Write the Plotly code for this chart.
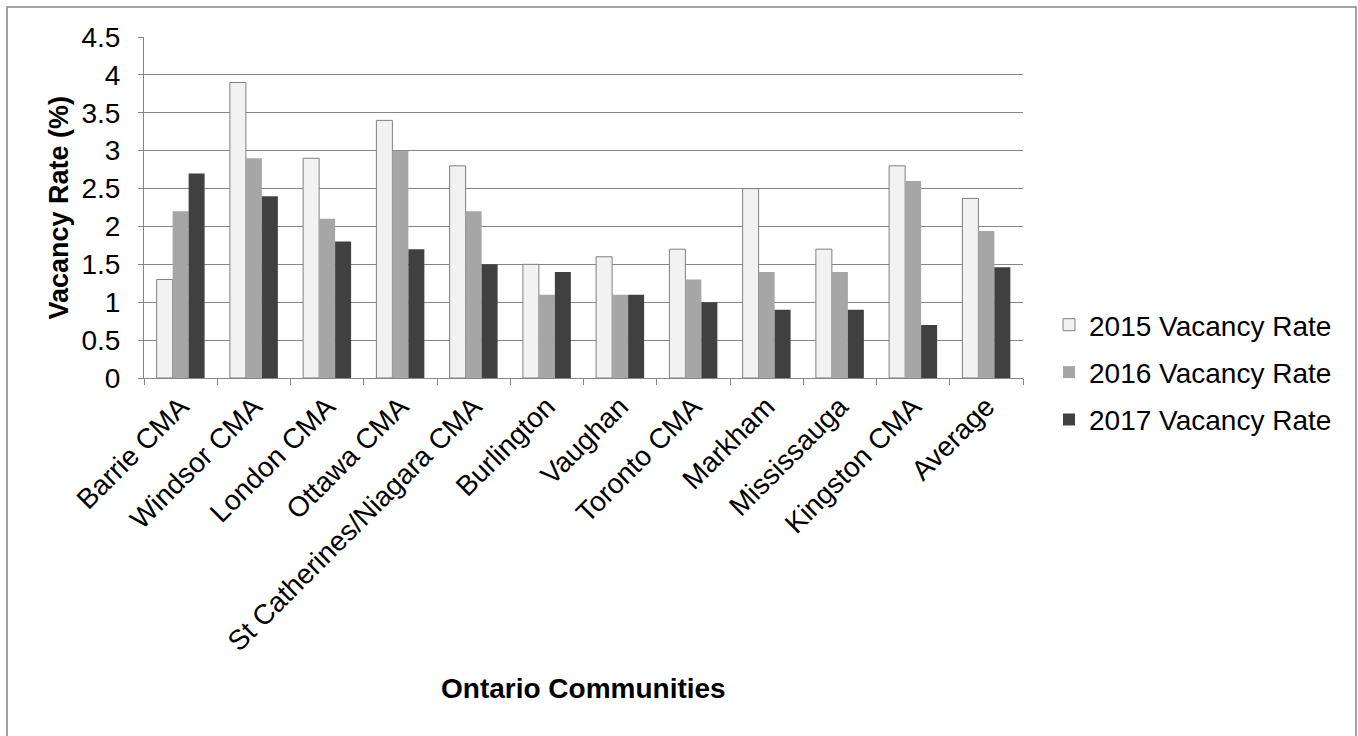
import plotly.graph_objects as go

categories = ["Barrie CMA", "Windsor CMA", "London CMA", "Ottawa CMA",
              "St Catherines/Niagara CMA", "Burlington", "Vaughan", "Toronto CMA",
              "Markham", "Mississauga", "Kingston CMA", "Average"]
rate_2015 = [1.3, 3.9, 2.9, 3.4, 2.8, 1.5, 1.6, 1.7, 2.5, 1.7, 2.8, 2.37]
rate_2016 = [2.2, 2.9, 2.1, 3.0, 2.2, 1.1, 1.1, 1.3, 1.4, 1.4, 2.6, 1.94]
rate_2017 = [2.7, 2.4, 1.8, 1.7, 1.5, 1.4, 1.1, 1.0, 0.9, 0.9, 0.7, 1.46]
series_names = ["2015 Vacancy Rate", "2016 Vacancy Rate", "2017 Vacancy Rate"]
y_ticks = [0, 0.5, 1, 1.5, 2, 2.5, 3, 3.5, 4, 4.5]
y_ticklabels = ["0", "0.5", "1", "1.5", "2", "2.5", "3", "3.5", "4", "4.5"]

FONT = "Liberation Sans, Arial, sans-serif"
GRID = "#868686"
FS = 28

fig = go.Figure()
fig.add_trace(go.Bar(x=categories, y=rate_2015, name=series_names[0],
                     marker=dict(color="#f2f2f2", line=dict(color="#7f7f7f", width=1)),
                     legendgroup="a"))
fig.add_trace(go.Bar(x=categories, y=rate_2016, name=series_names[1],
                     marker=dict(color="#a6a6a6", line=dict(width=0)),
                     legendgroup="b"))
fig.add_trace(go.Bar(x=categories, y=rate_2017, name=series_names[2],
                     marker=dict(color="#404040", line=dict(width=0)),
                     legendgroup="c"))

W, H = 1358, 736
L, R, T, B = 144, 335, 37, 358
pw = W - L - R
ph = H - T - B

def px_x(p):
    return (p - L) / pw

def px_y(p):
    return (H - B - p) / ph

fig.update_layout(
    width=W, height=H,
    margin=dict(l=L, r=R, t=T, b=B, autoexpand=False),
    paper_bgcolor="white", plot_bgcolor="white",
    font=dict(family=FONT, size=FS, color="black"),
    barmode="group", bargap=0.345, bargroupgap=0,
    showlegend=True,
    legend=dict(x=px_x(1049), y=px_y(300), xanchor="left", yanchor="top",
                font=dict(size=FS), tracegroupgap=8, itemwidth=30,
                bgcolor="rgba(0,0,0,0)"),
    xaxis=dict(showgrid=False, showline=True, linecolor=GRID, linewidth=1,
               ticks="outside", ticklen=6, tickcolor=GRID, tickson="boundaries",
               tickangle=-45, tickfont=dict(size=FS), automargin=False),
    yaxis=dict(range=[0, 4.5], tickvals=y_ticks, ticktext=y_ticklabels,
               showgrid=True, gridcolor=GRID, gridwidth=1,
               showline=True, linecolor=GRID, linewidth=1,
               ticks="outside", ticklen=5, tickcolor=GRID,
               tickfont=dict(size=FS), ticklabelstandoff=12,
               zeroline=False, automargin=False),
    annotations=[
        dict(text="<b>Ontario Communities</b>", xref="paper", yref="paper",
             x=0.5, y=px_y(688), xanchor="center", yanchor="middle",
             showarrow=False, font=dict(size=FS)),
        dict(text="<b>Vacancy Rate (%)</b>", xref="paper", yref="paper",
             x=px_x(58), y=0.5, xanchor="center", yanchor="middle",
             textangle=-90, showarrow=False, font=dict(size=27)),
    ],
    shapes=[
        dict(type="rect", xref="paper", yref="paper",
             x0=px_x(7), x1=px_x(1356), y0=px_y(745), y1=px_y(7),
             line=dict(color=GRID, width=1.5), fillcolor="rgba(0,0,0,0)",
             layer="below"),
    ],
)

fig.write_html("out.html")
